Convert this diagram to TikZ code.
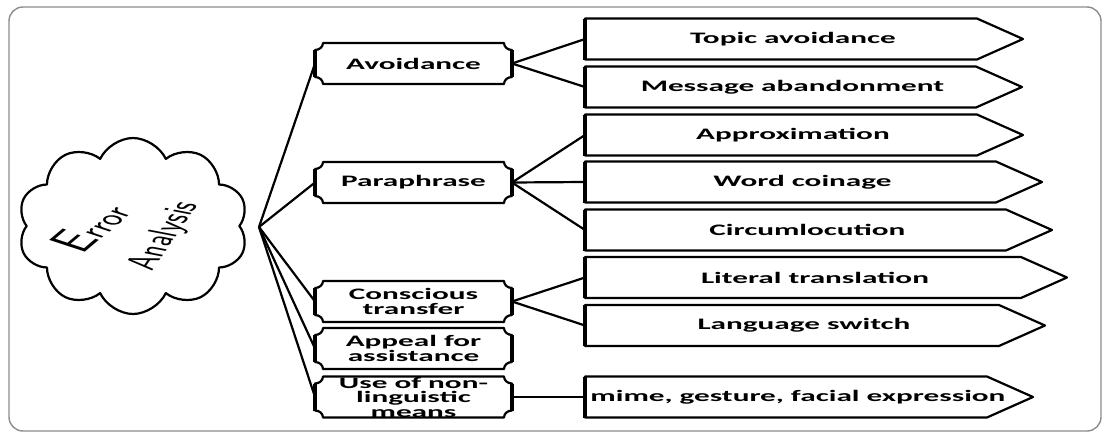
\documentclass[tikz,border=0pt]{standalone}
\usepackage{fontspec}
\usetikzlibrary{calc,shapes.symbols}
\newfontfamily\boxfont{Carlito}[FakeStretch=1.95]
\newcommand{\boxsize}{\fontsize{16}{14.5}\selectfont}
\newcommand{\plaque}[1]{%
  \draw[plaqueline] ($(#1.north west)+(8,0)$) -- ($(#1.north east)+(-8,0)$)
    .. controls ($(#1.north east)+(-8,3.9)$) and ($(#1.north east)+(-4.4,7)$) .. ($(#1.north east)+(0,7)$)
    -- ($(#1.south east)+(0,-7)$)
    .. controls ($(#1.south east)+(-4.4,-7)$) and ($(#1.south east)+(-8,-3.9)$) .. ($(#1.south east)+(-8,0)$)
    -- ($(#1.south west)+(8,0)$)
    .. controls ($(#1.south west)+(8,-3.9)$) and ($(#1.south west)+(4.4,-7)$) .. ($(#1.south west)+(0,-7)$)
    -- ($(#1.north west)+(0,7)$)
    .. controls ($(#1.north west)+(4.4,7)$) and ($(#1.north west)+(8,3.9)$) .. cycle;
  \draw[sideline] ($(#1.north west)+(0,7)$) -- ($(#1.south west)+(0,-7)$)
    ($(#1.north east)+(0,7)$) -- ($(#1.south east)+(0,-7)$);}
\tikzset{
  lbox/.style={rectangle,minimum width=197pt,minimum height=41pt,inner sep=0pt,outer sep=0pt,
    align=center,font=\boxfont\bfseries\boxsize},
  rbox/.style={signal,signal to=east,signal pointer angle=48,draw,line width=2.2pt,
    minimum height=41pt,inner sep=0pt,outer sep=0pt,anchor=west,font=\boxfont\bfseries\boxsize,
    execute at begin node=\hspace*{24pt}},
  plaqueline/.style={line width=2.2pt},
  sideline/.style={line width=3.6pt,line cap=butt},
  link/.style={line width=2.2pt},
  cloudtext/.style={font=\sffamily\fontsize{22.5}{22.5}\selectfont,xscale=1.9,inner sep=0pt},
}
\begin{document}
\begin{tikzpicture}[line join=round,thick,x=1pt,y=-1pt]
\useasboundingbox (0,0) rectangle (1104,434);
% frame
\draw[black!45,line width=1.4pt,rounded corners=14pt] (9,7) rectangle (1101,431);
% cloud
\node[cloud,cloud puffs=10,cloud puff arc=130,cloud ignores aspect,draw,line width=2.2pt,
  minimum width=230pt,minimum height=176pt] (cloud) at (133,226) {};
\node[cloudtext,rotate=58] (err) at (90,228) {{\fontsize{32}{32}\selectfont E}rror};
\node[cloudtext,rotate=70] (ana) at (165,236) {Analysis};
\coordinate (hub) at (259,227);
% strategies
\node[lbox] (avoid) at (413.5,63.5) {Avoidance};
\node[lbox] (para) at (413.5,182.5) {Paraphrase};
\node[lbox] (trans) at (413.5,301.5) {Conscious\\transfer};
\node[lbox] (appeal) at (413.5,348.5) {Appeal for\\assistance};
\node[lbox] (nonling) at (413.5,397) {Use of non-\\linguistic\\means};
\foreach \n in {avoid,para,trans,appeal,nonling}{
  \plaque{\n}
  \draw[link] (hub) -- (\n.west);
}
% sub-strategies
\node[rbox,minimum width=438pt] (topic) at (585,39) {Topic avoidance};
\node[rbox,minimum width=437pt] (message) at (585,87) {Message abandonment};
\node[rbox,minimum width=438pt] (approx) at (585,135) {Approximation};
\node[rbox,minimum width=457pt] (coin) at (585,182) {Word coinage};
\node[rbox,minimum width=467pt] (circum) at (585,230) {Circumlocution};
\node[rbox,minimum width=482pt] (literal) at (585,277.5) {Literal translation};
\node[rbox,minimum width=460pt] (switch) at (585,325.5) {Language switch};
\node[rbox,minimum width=448pt] (mime) at (585,397) {\makebox[0pt]{mime, gesture, facial expression}};
\foreach \n in {topic,message,approx,coin,circum,literal,switch,mime}
  \draw[sideline] (\n.north west) -- (\n.south west);
\draw[link] (avoid.east) -- (topic.west);
\draw[link] (avoid.east) -- (message.west);
\draw[link] (para.east) -- (approx.west);
\draw[link] (para.east) -- (coin.west);
\draw[link] (para.east) -- (circum.west);
\draw[link] (trans.east) -- (literal.west);
\draw[link] (trans.east) -- (switch.west);
\draw[link] (nonling.east) -- (mime.west);
\end{tikzpicture}
\end{document}
